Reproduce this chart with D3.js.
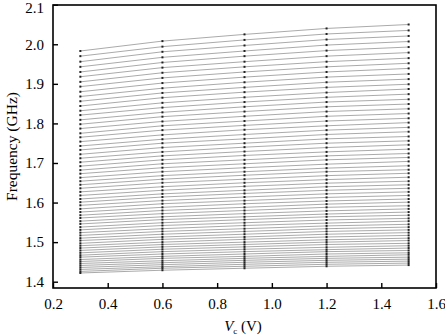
<!DOCTYPE html>
<html>
<head>
<meta charset="utf-8">
<script src="https://cdn.jsdelivr.net/npm/d3@7"></script>
<style>
  html, body { margin: 0; padding: 0; background: #fff; }
  svg { display: block; font-family: "Liberation Serif", "Times New Roman", serif; }
</style>
</head>
<body>
<div id="chart"></div>
<script>
// control voltage (V)
const vc = [0.3, 0.6, 0.9, 1.2, 1.5];

// frequency (GHz) of each tuning curve, one array per control voltage
const f030 = [1.983, 1.970, 1.956, 1.943, 1.930, 1.918, 1.905, 1.893, 1.880, 1.868, 1.856, 1.844, 1.832, 1.821, 1.809, 1.798,
  1.787, 1.775, 1.765, 1.754, 1.743, 1.733, 1.722, 1.712, 1.702, 1.692, 1.682, 1.673, 1.663, 1.654, 1.645, 1.636,
  1.627, 1.618, 1.609, 1.601, 1.593, 1.584, 1.576, 1.568, 1.561, 1.553, 1.546, 1.538, 1.531, 1.524, 1.517, 1.510,
  1.504, 1.497, 1.491, 1.485, 1.479, 1.473, 1.467, 1.462, 1.456, 1.451, 1.446, 1.441, 1.436, 1.431, 1.426, 1.422];
const f060 = [2.008, 1.994, 1.981, 1.967, 1.954, 1.941, 1.928, 1.915, 1.902, 1.889, 1.877, 1.865, 1.852, 1.840, 1.828, 1.817,
  1.805, 1.794, 1.783, 1.771, 1.760, 1.750, 1.739, 1.728, 1.718, 1.708, 1.698, 1.688, 1.678, 1.668, 1.659, 1.650,
  1.640, 1.631, 1.622, 1.614, 1.605, 1.597, 1.588, 1.580, 1.572, 1.564, 1.557, 1.549, 1.542, 1.534, 1.527, 1.520,
  1.513, 1.507, 1.500, 1.494, 1.488, 1.482, 1.476, 1.470, 1.464, 1.459, 1.453, 1.448, 1.443, 1.438, 1.434, 1.429];
const f090 = [2.025, 2.011, 1.997, 1.983, 1.970, 1.956, 1.943, 1.930, 1.917, 1.904, 1.891, 1.879, 1.866, 1.854, 1.842, 1.830,
  1.818, 1.806, 1.795, 1.784, 1.772, 1.761, 1.750, 1.740, 1.729, 1.719, 1.708, 1.698, 1.688, 1.678, 1.669, 1.659,
  1.650, 1.641, 1.631, 1.623, 1.614, 1.605, 1.597, 1.588, 1.580, 1.572, 1.564, 1.557, 1.549, 1.542, 1.534, 1.527,
  1.520, 1.513, 1.507, 1.500, 1.494, 1.488, 1.482, 1.476, 1.470, 1.464, 1.459, 1.454, 1.449, 1.444, 1.439, 1.434];
const f120 = [2.040, 2.026, 2.012, 1.998, 1.984, 1.970, 1.956, 1.943, 1.930, 1.917, 1.904, 1.891, 1.878, 1.866, 1.854, 1.842,
  1.830, 1.818, 1.806, 1.794, 1.783, 1.772, 1.761, 1.750, 1.739, 1.728, 1.718, 1.708, 1.697, 1.687, 1.678, 1.668,
  1.658, 1.649, 1.640, 1.631, 1.622, 1.613, 1.604, 1.596, 1.588, 1.579, 1.571, 1.564, 1.556, 1.548, 1.541, 1.534,
  1.527, 1.520, 1.513, 1.506, 1.500, 1.494, 1.487, 1.481, 1.476, 1.470, 1.464, 1.459, 1.454, 1.449, 1.444, 1.439];
const f150 = [2.050, 2.035, 2.021, 2.007, 1.993, 1.979, 1.965, 1.952, 1.939, 1.925, 1.912, 1.899, 1.887, 1.874, 1.861, 1.849,
  1.837, 1.825, 1.813, 1.802, 1.790, 1.779, 1.767, 1.756, 1.746, 1.735, 1.724, 1.714, 1.704, 1.693, 1.683, 1.674,
  1.664, 1.654, 1.645, 1.636, 1.627, 1.618, 1.609, 1.601, 1.592, 1.584, 1.576, 1.568, 1.560, 1.553, 1.545, 1.538,
  1.531, 1.524, 1.517, 1.510, 1.504, 1.497, 1.491, 1.485, 1.479, 1.473, 1.468, 1.462, 1.457, 1.452, 1.447, 1.442];

const xTicks = [0.2, 0.4, 0.6, 0.8, 1.0, 1.2, 1.4, 1.6];
const yTicks = [1.4, 1.5, 1.6, 1.7, 1.8, 1.9, 2.0, 2.1];

const columns = [f030, f060, f090, f120, f150];
const curves = f030.map((_, k) => columns.map((col, j) => ({ v: vc[j], f: col[k] })));

const width = 445;
const height = 335;
const plot = { left: 53, right: 436, top: 5, bottom: 288 };
const serif = '"Liberation Serif", "Times New Roman", serif';

const svg = d3
  .select('#chart')
  .append('svg')
  .attr('width', width)
  .attr('height', height);

const x = d3.scaleLinear().domain([0.2, 1.6]).range([plot.left, plot.right]);
const y = d3.scaleLinear().domain([1.4, 2.1]).range([281.7, 4.7]);

// curves
const line = d3
  .line()
  .x(d => x(d.v))
  .y(d => y(d.f));

svg
  .append('g')
  .selectAll('path')
  .data(curves)
  .join('path')
  .attr('d', line)
  .attr('fill', 'none')
  .attr('stroke', '#555')
  .attr('stroke-width', 0.5);

svg
  .append('g')
  .selectAll('rect')
  .data(curves.flat())
  .join('rect')
  .attr('x', d => x(d.v) - 1)
  .attr('y', d => y(d.f) - 1)
  .attr('width', 2)
  .attr('height', 2)
  .attr('fill', '#222');

// axes, ticks pointing inwards
const xAxis = svg
  .append('g')
  .attr('transform', `translate(0, ${plot.bottom})`)
  .call(d3.axisBottom(x).tickValues(xTicks).tickSizeInner(-5).tickSizeOuter(0).tickPadding(10).tickFormat(d3.format('.1f')));

const yAxis = svg
  .append('g')
  .attr('transform', `translate(${plot.left}, 0)`)
  .call(d3.axisLeft(y).tickValues(yTicks).tickSizeInner(-5).tickSizeOuter(0).tickPadding(9).tickFormat(d3.format('.1f')));

[xAxis, yAxis].forEach(g => {
  g.attr('font-family', serif).attr('font-size', 15);
  g.select('.domain').remove();
  g.selectAll('.tick line').attr('stroke', '#000').attr('stroke-width', 1.4);
  g.selectAll('.tick text').attr('fill', '#000');
});

// keep the top label inside the picture
yAxis
  .selectAll('.tick text')
  .filter(d => d === 2.1)
  .attr('dy', '0.5em');

svg
  .append('rect')
  .attr('x', plot.left)
  .attr('y', plot.top)
  .attr('width', plot.right - plot.left)
  .attr('height', plot.bottom - plot.top)
  .attr('fill', 'none')
  .attr('stroke', '#000')
  .attr('stroke-width', 1.6);

// axis titles
const xTitle = svg
  .append('text')
  .attr('x', 243)
  .attr('y', 331)
  .attr('text-anchor', 'middle')
  .style('font-size', '15px');
xTitle.append('tspan').style('font-style', 'italic').text('V');
xTitle.append('tspan').attr('dy', 3).style('font-size', '9px').text('c');
xTitle.append('tspan').attr('dy', -3).text(' (V)');

svg
  .append('text')
  .attr('transform', `translate(17, ${(plot.top + plot.bottom) / 2}) rotate(-90)`)
  .attr('text-anchor', 'middle')
  .style('font-size', '15.5px')
  .text('Frequency (GHz)');
</script>
</body>
</html>
